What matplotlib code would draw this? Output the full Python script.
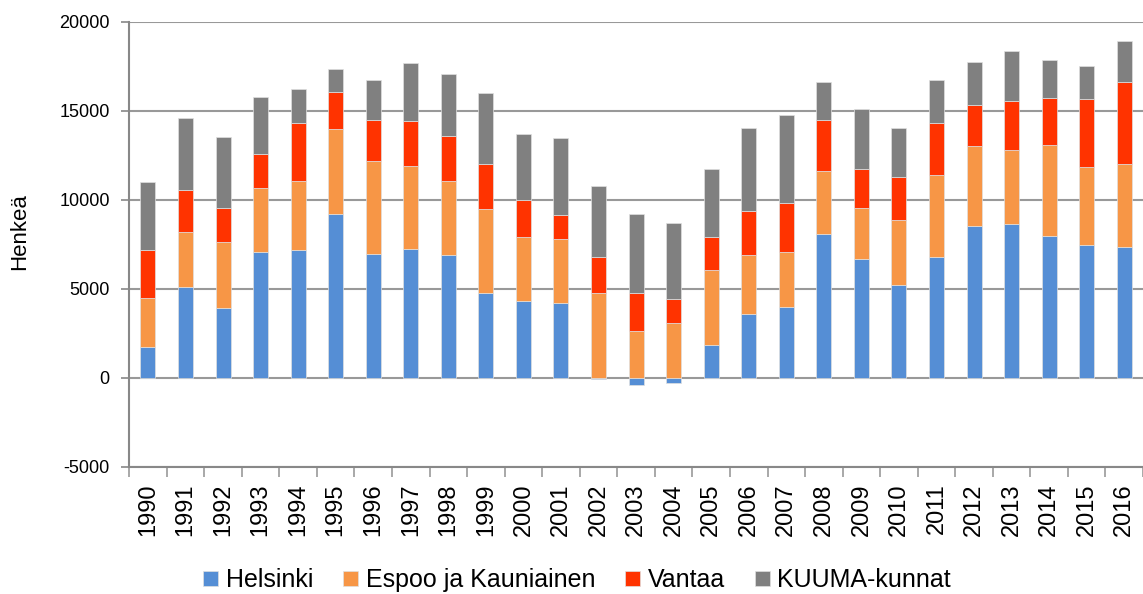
import numpy as np
import matplotlib
matplotlib.use("Agg")
from matplotlib import pyplot as plt

years = [str(y) for y in range(1990, 2017)]

helsinki = [1720, 5100, 3900, 7050, 7160, 9230, 6990, 7270, 6930, 4790,
            4300, 4200, -50, -410, -300, 1830, 3570, 3980, 8090, 6690,
            5200, 6780, 8560, 8670, 8000, 7480, 7350]
espoo = [2780, 3100, 3740, 3630, 3910, 4750, 5200, 4640, 4130, 4710,
         3620, 3610, 4770, 2650, 3080, 4220, 3350, 3080, 3550, 2840,
         3680, 4620, 4490, 4130, 5080, 4390, 4670]
vantaa = [2690, 2370, 1930, 1910, 3270, 2110, 2300, 2540, 2540, 2540,
          2080, 1370, 2020, 2130, 1350, 1850, 2450, 2790, 2880, 2220,
          2430, 2930, 2300, 2780, 2670, 3790, 4580]
kuuma = [3830, 4020, 3980, 3200, 1910, 1250, 2240, 3270, 3460, 3980,
         3680, 4300, 4000, 4410, 4260, 3830, 4650, 4920, 2130, 3370,
         2750, 2430, 2390, 2800, 2090, 1890, 2340]

series = [
    ("Helsinki", helsinki, "#558ED5"),
    ("Espoo ja Kauniainen", espoo, "#F79646"),
    ("Vantaa", vantaa, "#FF3300"),
    ("KUUMA-kunnat", kuuma, "#808080"),
]

plt.rcParams['font.family'] = ['Liberation Sans', 'DejaVu Sans']
plt.rcParams['axes.unicode_minus'] = False

fig = plt.figure(figsize=(11.43, 5.94), dpi=100)
ax = fig.add_axes([0.113, 0.214, 0.887, 0.749])

x = np.arange(len(years))
pos_bottom = np.zeros(len(years))
neg_bottom = np.zeros(len(years))
handles = []
for name, vals, col in series:
    v = np.array(vals, dtype=float)
    bottom = np.where(v >= 0, pos_bottom, neg_bottom)
    b = ax.bar(x, v, 0.4, bottom=bottom, color=col, edgecolor="#e0e0e0",
               linewidth=0.5, label=name, zorder=3)
    handles.append(b)
    pos_bottom = pos_bottom + np.where(v >= 0, v, 0)
    neg_bottom = neg_bottom + np.where(v < 0, v, 0)

ax.set_xlim(-0.5, len(years) - 0.5)
ax.set_ylim(-5000, 20000)
ax.set_yticks(range(-5000, 20001, 5000))
ax.tick_params(axis='y', labelsize=13, length=6, color='#888888', width=1.2, pad=8)
ax.yaxis.grid(True, color='#999999', linewidth=1.5, zorder=0)

# category labels in the middle, tick marks on boundaries
ax.set_xticks(x)
ax.set_xticklabels(years, rotation=90, fontsize=17)
ax.tick_params(axis='x', length=0, pad=12)
ax.set_xticks(np.arange(-0.5, len(years), 1), minor=True)
ax.tick_params(axis='x', which='minor', length=7, color='#999999', width=1.2)

for s in ['top', 'right']:
    ax.spines[s].set_visible(False)
for s in ['left', 'bottom']:
    ax.spines[s].set_color('#888888')
    ax.spines[s].set_linewidth(1.5)

ax.set_ylabel("Henkeä", fontsize=16)
ax.yaxis.set_label_coords(-0.098, 0.53)

fig.legend(handles=handles, loc='lower center', bbox_to_anchor=(0.505, -0.035),
           ncol=4, frameon=False, fontsize=18, handlelength=0.6, handleheight=0.6,
           handletextpad=0.3, columnspacing=1.2)

fig.savefig("out.png", dpi=100)
